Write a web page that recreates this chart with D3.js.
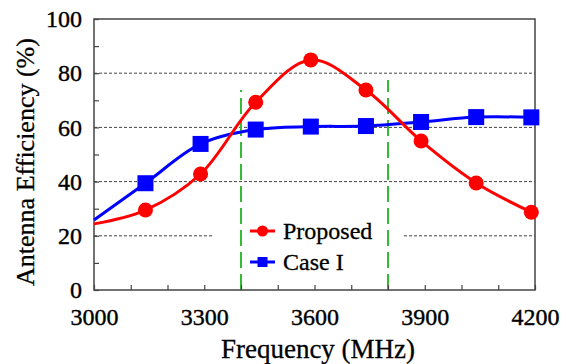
<!DOCTYPE html>
<html>
<head>
<meta charset="utf-8">
<script src="https://cdn.jsdelivr.net/npm/d3@7"></script>
<style>
    body { margin: 0; background: #fff; }
    svg text { font-family: "Liberation Serif", "Times New Roman", "DejaVu Serif", serif; fill: #000; }
</style>
</head>
<body>
<div id="chart"></div>
<script>
// Data
var freqs = [3140, 3290, 3440, 3590, 3740, 3890, 4040, 4190];
var proposed = [29.5, 42.8, 69.3, 84.9, 73.8, 55, 39.5, 28.7];
var caseI = [39.4, 53.9, 59.2, 60.3, 60.5, 62, 63.8, 63.7];
// where the fitted curves start at the left edge
var curveStartFreq = 3000;
var proposedStart = 24.4;
var caseIStart = 25.8;

var xTicks = d3.range(3000, 4201, 100);
var xLabels = [3000, 3300, 3600, 3900, 4200];
var yTicks = d3.range(0, 101, 10);
var yLabels = [0, 20, 40, 60, 80, 100];
var gridValues = [20, 40, 60, 80];
var bandEdges = [3400, 3800];
var bandTops = [73.8, 77.5];

var serif = "'Liberation Serif', 'Times New Roman', 'DejaVu Serif', serif";

var opts = {
    width: 566,
    height: 364,
    margin: { left: 94, right: 31, top: 19, bottom: 74 }
};

var svg = d3.select("#chart").append("svg")
    .attr("width", opts.width)
    .attr("height", opts.height)
    .attr("font-family", serif);

svg.append("rect").attr("width", opts.width).attr("height", opts.height).attr("fill", "#fff");

var x = d3.scaleLinear()
    .domain([3000, 4200])
    .range([opts.margin.left, opts.width - opts.margin.right]);

var y = d3.scaleLinear()
    .domain([0, 100])
    .range([opts.height - opts.margin.bottom, opts.margin.top]);

// Grid (dashed)
svg.append("g").selectAll("line")
    .data(gridValues)
    .enter().append("line")
    .attr("x1", x.range()[0])
    .attr("x2", x.range()[1])
    .attr("y1", function(d) { return y(d); })
    .attr("y2", function(d) { return y(d); })
    .attr("stroke", "#444")
    .attr("stroke-width", 1)
    .attr("stroke-dasharray", "3,2");

// Legend background hides the grid behind it
svg.append("rect")
    .attr("x", 214)
    .attr("y", 212)
    .attr("width", 188)
    .attr("height", 66)
    .attr("fill", "#fff");

// Band edges (green dashed)
svg.append("g").selectAll("line")
    .data(bandEdges)
    .enter().append("line")
    .attr("x1", function(d) { return x(d); })
    .attr("x2", function(d) { return x(d); })
    .attr("y1", y(0))
    .attr("y2", function(d, i) { return y(bandTops[i]); })
    .attr("stroke", "#33bb33")
    .attr("stroke-width", 2)
    .attr("stroke-dasharray", "16,6");

// Axes
var xAxis = d3.axisBottom(x)
    .tickValues(xTicks)
    .tickSizeInner(-5)
    .tickSizeOuter(0)
    .tickPadding(18)
    .tickFormat(function(d) { return xLabels.indexOf(d) >= 0 ? d : ""; });

var gx = svg.append("g")
    .attr("transform", "translate(0," + y(0) + ")")
    .call(xAxis);

var yAxis = d3.axisLeft(y)
    .tickValues(yTicks)
    .tickSizeInner(-5)
    .tickSizeOuter(0)
    .tickPadding(12)
    .tickFormat(function(d) { return yLabels.indexOf(d) >= 0 ? d : ""; });

var gy = svg.append("g")
    .attr("transform", "translate(" + x(3000) + ",0)")
    .call(yAxis);

[gx, gy].forEach(function(g) {
    g.attr("font-family", serif);
    g.select(".domain").remove();
    g.selectAll(".tick line").attr("stroke", "#444").attr("stroke-width", 1.2);
    g.selectAll(".tick text")
        .attr("font-size", 24)
        .attr("fill", "#000")
        .attr("stroke", "#000")
        .attr("stroke-width", 0.4);
});

// Frame
svg.append("rect")
    .attr("x", x(3000))
    .attr("y", y(100))
    .attr("width", x(4200) - x(3000))
    .attr("height", y(0) - y(100))
    .attr("fill", "none")
    .attr("stroke", "#444")
    .attr("stroke-width", 1.5);

// Series
var series = [
    { name: "Proposed", color: "#ff0000", shape: "circle", values: proposed, start: proposedStart },
    { name: "Case I", color: "#0000ff", shape: "square", values: caseI, start: caseIStart }
];

var line = d3.line()
    .x(function(d) { return x(d[0]); })
    .y(function(d) { return y(d[1]); })
    .curve(d3.curveCatmullRom.alpha(0.5));

function drawMarker(g, shape, color, cx, cy) {
    if (shape === "circle") {
        g.append("circle").attr("cx", cx).attr("cy", cy).attr("r", 7.5).attr("fill", color);
    } else {
        g.append("rect").attr("x", cx - 8).attr("y", cy - 8).attr("width", 16).attr("height", 16).attr("fill", color);
    }
}

// draw Case I first so Proposed sits on top
series.slice().reverse().forEach(function(s) {
    var pts = [[curveStartFreq, s.start]].concat(freqs.map(function(f, i) { return [f, s.values[i]]; }));
    svg.append("path")
        .attr("d", line(pts))
        .attr("fill", "none")
        .attr("stroke", s.color)
        .attr("stroke-width", 3);
    var g = svg.append("g");
    freqs.forEach(function(f, i) {
        drawMarker(g, s.shape, s.color, x(f), y(s.values[i]));
    });
});

// Legend
var legend = svg.append("g").attr("transform", "translate(250,231)");
series.forEach(function(s, i) {
    var row = legend.append("g").attr("transform", "translate(0," + (i * 31) + ")");
    row.append("line").attr("x1", 0).attr("x2", 25).attr("y1", 0).attr("y2", 0)
        .attr("stroke", s.color).attr("stroke-width", 3);
    if (s.shape === "circle") {
        row.append("circle").attr("cx", 12.5).attr("cy", 0).attr("r", 5.5).attr("fill", s.color);
    } else {
        row.append("rect").attr("x", 7.5).attr("y", -5).attr("width", 10).attr("height", 10).attr("fill", s.color);
    }
    row.append("text")
        .attr("x", 33)
        .attr("y", 8)
        .attr("font-size", 24)
        .attr("stroke", "#000")
        .attr("stroke-width", 0.3)
        .text(s.name);
});

// Axis titles
svg.append("text")
    .attr("x", 318)
    .attr("y", 358)
    .attr("text-anchor", "middle")
    .attr("font-size", 27)
    .attr("stroke", "#000")
    .attr("stroke-width", 0.3)
    .text("Frequency (MHz)");

svg.append("text")
    .attr("transform", "translate(34,162) rotate(-90)")
    .attr("text-anchor", "middle")
    .attr("font-size", 26)
    .attr("stroke", "#000")
    .attr("stroke-width", 0.3)
    .text("Antenna Efficiency (%)");
</script>
</body>
</html>
